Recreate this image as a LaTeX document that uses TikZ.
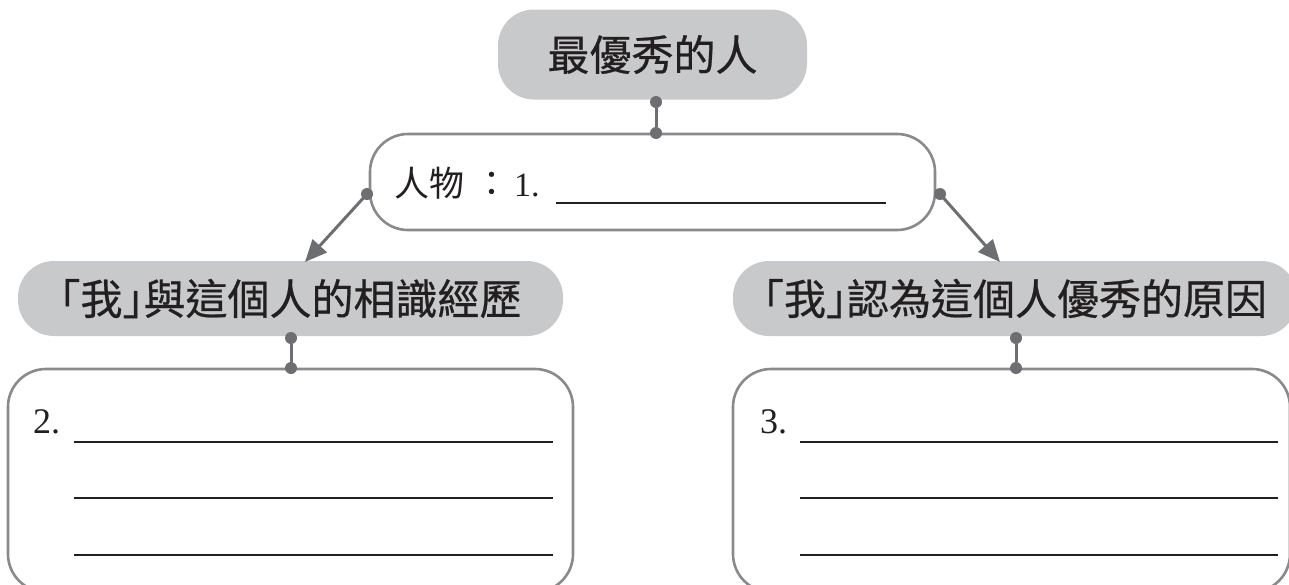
\documentclass[tikz,border=0pt]{standalone}
\usepackage{fontspec}
\setmainfont{Liberation Serif}
\newfontfamily\cjksans{Noto Sans CJK TC}
\newfontfamily\cjktitle[FakeBold=0.6]{Noto Sans CJK TC}
\newfontfamily\cjkhalf[FakeBold=0.6,RawFeature=+halt]{Noto Sans CJK TC}
\usetikzlibrary{arrows.meta}
\definecolor{boxgray}{HTML}{C8C9CB}
\definecolor{linkgray}{HTML}{6D6E71}
\definecolor{edgegray}{HTML}{898A8D}
\definecolor{ink}{HTML}{231F20}
\newcommand{\lbr}{{\cjkhalf 「}}
\newcommand{\rbr}{{\cjkhalf 」}}
\begin{document}
\begin{tikzpicture}[x=1pt,y=-1pt,
  titlebox/.style={fill=boxgray, rounded corners=36pt, inner sep=0pt, text=ink,
    font=\cjktitle\fontsize{42}{42}\selectfont},
  answerbox/.style={draw=edgegray, line width=2.6pt, fill=white, rounded corners=38pt, inner sep=0pt},
  linkline/.style={draw=linkgray, line width=3pt},
  linkdot/.style={circle, fill=linkgray, inner sep=0pt, minimum size=12pt},
  arrowline/.style={draw=linkgray, line width=3pt, -{Triangle[length=22pt,width=19pt]}},
  blank/.style={draw=ink, line width=2.6pt},
  numtext/.style={text=ink, inner sep=0pt, font=\fontsize{36}{36}\selectfont},
]
\useasboundingbox (0,0) rectangle (1289,584);
\clip (0,0) rectangle (1289,584);

% top title
\node[titlebox, minimum width=309pt, minimum height=90pt] (top) at (652.5,54.5) {最優秀的人};

% person box
\node[answerbox, minimum width=565pt, minimum height=96pt] (person) at (652.5,182) {};
\node[anchor=base west, inner sep=0pt, text=ink] (plabel) at (394,196)
  {\cjksans\fontsize{35}{35}\selectfont 人物\hspace{10pt}：\hspace{5pt}\rmfamily\fontsize{34}{34}\selectfont 1.};
\coordinate (u1a) at (556,203);
\coordinate (u1b) at (886,203);
\draw[blank] (u1a) -- (u1b);

% connector top -> person
\node[linkdot] (d1) at (656,102) {};
\node[linkdot] (d2) at (656,133) {};
\draw[linkline] (d1) -- (d2);

% side titles
\node[titlebox, minimum width=545pt, minimum height=75pt] (left) at (290.5,298.5) {\lbr 我\rbr 與這個人的相識經歷};
\node[titlebox, minimum width=564pt, minimum height=75pt] (right) at (1015,298.5) {\lbr 我\rbr 認為這個人優秀的原因};

% arrows
\node[linkdot] (pl) at (367,194) {};
\node[linkdot] (pr) at (940,194) {};
\coordinate (al) at (305,262);
\coordinate (ar) at (1000,262);
\draw[arrowline] (pl.center) -- (al);
\draw[arrowline] (pr.center) -- (ar);

% bottom boxes
\node[answerbox, minimum width=565pt, minimum height=223pt] (lbox) at (290.5,480.5) {};
\node[answerbox, minimum width=557pt, minimum height=223pt] (rbox) at (1011.5,480.5) {};

% connectors to bottom boxes
\node[linkdot] (ld1) at (291,338) {};
\node[linkdot] (ld2) at (291,368) {};
\draw[linkline] (ld1) -- (ld2);
\node[linkdot] (rd1) at (1016,338) {};
\node[linkdot] (rd2) at (1016,368) {};
\draw[linkline] (rd1) -- (rd2);

% left answer lines
\node[numtext, anchor=base west] (n2) at (33,433) {2.};
\coordinate (l1a) at (74,442);  \coordinate (l1b) at (553,442);
\coordinate (l2a) at (74,498);  \coordinate (l2b) at (553,498);
\coordinate (l3a) at (74,555);  \coordinate (l3b) at (553,555);
\draw[blank] (l1a) -- (l1b);
\draw[blank] (l2a) -- (l2b);
\draw[blank] (l3a) -- (l3b);

% right answer lines
\node[numtext, anchor=base west] (n3) at (760,433) {3.};
\coordinate (r1a) at (800,442);  \coordinate (r1b) at (1278,442);
\coordinate (r2a) at (800,498);  \coordinate (r2b) at (1278,498);
\coordinate (r3a) at (800,555);  \coordinate (r3b) at (1278,555);
\draw[blank] (r1a) -- (r1b);
\draw[blank] (r2a) -- (r2b);
\draw[blank] (r3a) -- (r3b);
\end{tikzpicture}
\end{document}
